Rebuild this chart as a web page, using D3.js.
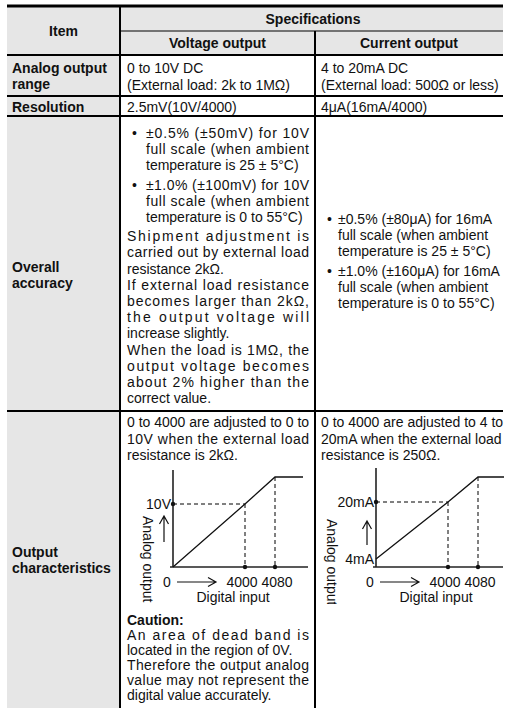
<!DOCTYPE html>
<html>
<head>
<meta charset="utf-8">
<script src="https://cdn.jsdelivr.net/npm/d3@7"></script>
<style>
body{margin:0;background:#fff;}
text{font-family:"Liberation Sans",Arial,sans-serif;font-size:14px;fill:#111;}
.b{font-weight:bold;}
</style>
</head>
<body>
<svg id="chart" width="506" height="708"></svg>
<script>
// table text
var itemHeader = "Item";
var specHeader = "Specifications";
var columnHeaders = ["Voltage output", "Current output"];
var rowLabels = [["Analog output", "range"], ["Resolution"], ["Overall", "accuracy"], ["Output", "characteristics"]];
var rangeText = [["0 to 10V DC", "(External load: 2k to 1M\u03A9)"], ["4 to 20mA DC", "(External load: 500\u03A9 or less)"]];
var resolutionText = ["2.5mV(10V/4000)", "4\u03BCA(16mA/4000)"];

var accuracyVoltage = [
  {bullet: true, justify: true, lines: ["\u00B10.5% (\u00B150mV) for 10V", "full scale (when ambient", "temperature is 25 \u00B1 5\u00B0C)"]},
  {bullet: true, justify: true, lines: ["\u00B11.0% (\u00B1100mV) for 10V", "full scale (when ambient", "temperature is 0 to 55\u00B0C)"]},
  {justify: true, lines: ["Shipment adjustment is", "carried out by external load", "resistance 2k\u03A9."]},
  {justify: true, lines: ["If external load resistance", "becomes larger than 2k\u03A9,", "the output voltage will", "increase slightly."]},
  {justify: true, lines: ["When the load is 1M\u03A9, the", "output voltage becomes", "about 2% higher than the", "correct value."]}
];
var accuracyCurrent = [
  {bullet: true, lines: ["\u00B10.5% (\u00B180\u03BCA) for 16mA", "full scale (when ambient", "temperature is 25 \u00B1 5\u00B0C)"]},
  {bullet: true, lines: ["\u00B11.0% (\u00B1160\u03BCA) for 16mA", "full scale (when ambient", "temperature is 0 to 55\u00B0C)"]}
];
var introVoltage = [{justify: true, lines: ["0 to 4000 are adjusted to 0 to", "10V when the external load", "resistance is 2k\u03A9."]}];
var introCurrent = [{justify: true, lines: ["0 to 4000 are adjusted to 4 to", "20mA when the external load", "resistance is 250\u03A9."]}];
var cautionTitle = "Caution:";
var cautionText = [
  {justify: true, lines: ["An area of dead band is", "located in the region of 0V."]},
  {justify: true, lines: ["Therefore the output analog", "value may not represent the", "digital value accurately."]}
];

// output characteristics
var digitalStops = [0, 4000, 4080, 4400];
var digitalTicks = [0, 4000, 4080];
var voltageCurve = [{d: 0, v: 0}, {d: 4000, v: 10}, {d: 4080, v: 10.2}, {d: 4400, v: 10.2}];
var currentCurve = [{d: 0, v: 4}, {d: 4000, v: 20}, {d: 4080, v: 20.32}, {d: 4400, v: 20.32}];
var voltageMarks = [{v: 10, label: "10V"}];
var currentMarks = [{v: 20, label: "20mA"}, {v: 4, label: "4mA"}];
var axisTitleY = "Analog output";
var axisTitleX = "Digital input";

var svg = d3.select("#chart");

// backgrounds
svg.append("rect").attr("x", 7).attr("y", 6).attr("width", 113).attr("height", 702).attr("fill", "#e6e6e6");
svg.append("rect").attr("x", 120).attr("y", 6).attr("width", 383).attr("height", 49).attr("fill", "#e6e6e6");

// rules
function hline(x1, x2, y, w) {
  svg.append("line").attr("x1", x1).attr("x2", x2).attr("y1", y).attr("y2", y)
    .attr("stroke", "#000").attr("stroke-width", w);
}
function vline(x, y1, y2, w) {
  svg.append("line").attr("x1", x).attr("x2", x).attr("y1", y1).attr("y2", y2)
    .attr("stroke", "#000").attr("stroke-width", w);
}
hline(7, 503, 6, 3);
hline(120, 503, 31, 1);
hline(7, 503, 55, 2);
hline(7, 503, 96, 2);
hline(7, 503, 116, 2);
hline(7, 503, 411, 2);
vline(120, 6, 708, 2);
vline(315, 31, 708, 2);

function txt(s, x, y, cls, anchor) {
  return svg.append("text").attr("x", x).attr("y", y).attr("class", cls || null)
    .attr("text-anchor", anchor || "start").text(s);
}
function fit(t, width) {
  var n = t.node().getComputedTextLength();
  if (n < width) t.attr("textLength", width).attr("lengthAdjust", "spacing");
}

// paragraphs, returns next baseline
function paragraphs(paras, x, y, right, step, bulletX, textX) {
  paras.forEach(function(p) {
    p.lines.forEach(function(s, i) {
      var lx = p.bullet ? textX : x;
      if (p.bullet && i == 0) txt("\u2022", bulletX, y);
      var t = txt(s, lx, y);
      if (p.justify && i < p.lines.length - 1) fit(t, right - lx);
      y += step;
    });
    if (p.bullet) y += 3;
  });
  return y;
}

// header
txt(itemHeader, 63.5, 36, "b", "middle");
txt(specHeader, 313, 24, "b", "middle");
txt(columnHeaders[0], 217.5, 48, "b", "middle");
txt(columnHeaders[1], 409, 48, "b", "middle");

// row labels
var labelBase = [73, 111.5, 272, 557];
rowLabels.forEach(function(r, i) {
  r.forEach(function(s, j) { txt(s, 12, labelBase[i] + j * 16.2, "b"); });
});

// analog range + resolution
rangeText[0].forEach(function(s, j) { txt(s, 127, 73 + j * 16.5); });
rangeText[1].forEach(function(s, j) { txt(s, 321, 73 + j * 16.5); });
txt(resolutionText[0], 127, 111.5);
txt(resolutionText[1], 321, 111.5);

// overall accuracy
paragraphs(accuracyVoltage, 127, 138, 309, 16.2, 132, 146);
paragraphs(accuracyCurrent, 321, 224, 500, 16.2, 327, 338);

// output characteristics text
paragraphs(introVoltage, 127, 427, 309, 16.5);
paragraphs(introCurrent, 321, 427, 500, 16.5);
txt(cautionTitle, 127, 625, "b");
paragraphs(cautionText, 127, 640, 309, 15);

// clip for the rotated axis titles
svg.append("clipPath").attr("id", "clipY").append("rect")
  .attr("x", 0).attr("y", 400).attr("width", 506).attr("height", 204);
svg.append("clipPath").attr("id", "clipR").append("rect")
  .attr("x", 0).attr("y", 400).attr("width", 504).attr("height", 308);

function drawCharacteristic(c) {
  var g = svg.append("g").attr("clip-path", "url(#clipR)");
  var x = d3.scaleLinear().domain(digitalStops).range([0, 72, 102, 130].map(function(d) { return c.ax + d; }));
  var y = d3.scaleLinear().domain(c.yDomain).range(c.yRange);
  var base = y(0);
  var valueAt = function(d) { return c.curve.filter(function(p) { return p.d == d; })[0].v; };
  var full = c.marks[0].v;

  // dashed guides
  g.append("line").attr("x1", c.ax).attr("x2", x(4000)).attr("y1", y(full)).attr("y2", y(full))
    .attr("stroke", "#000").attr("stroke-width", 1).attr("stroke-dasharray", "4,3");
  g.selectAll(".guide").data(digitalTicks.slice(1)).enter().append("line")
    .attr("x1", function(d) { return x(d); }).attr("x2", function(d) { return x(d); })
    .attr("y1", function(d) { return y(valueAt(d)); }).attr("y2", base)
    .attr("stroke", "#000").attr("stroke-width", 1).attr("stroke-dasharray", "4,3");

  // axes
  g.append("line").attr("x1", c.ax).attr("x2", c.ax).attr("y1", c.axisTop).attr("y2", base)
    .attr("stroke", "#222").attr("stroke-width", 1.6);
  g.append("line").attr("x1", c.ax - 3).attr("x2", c.xEnd).attr("y1", base).attr("y2", base)
    .attr("stroke", "#222").attr("stroke-width", 1.6);

  // characteristic
  var line = d3.line().x(function(p) { return x(p.d); }).y(function(p) { return y(p.v); });
  g.append("path").attr("d", line(c.curve)).attr("fill", "none").attr("stroke", "#111").attr("stroke-width", 1.3);

  // dots
  var dots = [[c.ax, y(full)], [x(4000), base], [x(4080), base]];
  g.selectAll(".dot").data(dots).enter().append("circle")
    .attr("cx", function(d) { return d[0]; }).attr("cy", function(d) { return d[1]; })
    .attr("r", 2.2).attr("fill", "#111");

  // y labels
  c.marks.forEach(function(m) {
    txt(m.label, c.ax - 2, y(m.v) + 5, null, "end");
  });
  // x labels
  txt("0", c.ax - 6, base + 20, null, "middle");
  txt(digitalTicks[1], x(4000) - 3, base + 20, null, "middle");
  txt(digitalTicks[2], x(4080) + 2, base + 20, null, "middle");
  txt(axisTitleX, c.ax + 60, base + 35, null, "middle");

  // arrows
  var ay = base + 15;
  svg.append("path")
    .attr("d", "M" + (c.ax + 4) + "," + ay + "H" + (c.ax + 43) +
      "M" + (c.ax + 35) + "," + (ay - 4.5) + "L" + (c.ax + 43) + "," + ay + "L" + (c.ax + 35) + "," + (ay + 4.5))
    .attr("fill", "none").attr("stroke", "#111").attr("stroke-width", 1.2);
  svg.append("path")
    .attr("d", "M" + c.upX + "," + c.upBottom + "V" + c.upTop +
      "M" + (c.upX - 4.5) + "," + (c.upTop + 8) + "L" + c.upX + "," + c.upTop + "L" + (c.upX + 4.5) + "," + (c.upTop + 8))
    .attr("fill", "none").attr("stroke", "#111").attr("stroke-width", 1.2);

  // rotated axis title
  svg.append("g").attr("clip-path", "url(#clipY)")
    .append("text").attr("transform", "translate(" + c.titleX + "," + c.titleY + ") rotate(90)")
    .attr("dy", "0.35em").text(axisTitleY);
}

drawCharacteristic({
  ax: 173, curve: voltageCurve, marks: voltageMarks,
  yDomain: [0, 10, 10.2], yRange: [567, 504, 477],
  axisTop: 470, xEnd: 308, upX: 164, upTop: 516, upBottom: 542,
  titleX: 148, titleY: 516
});
drawCharacteristic({
  ax: 376, curve: currentCurve, marks: currentMarks,
  yDomain: [0, 4, 20, 20.32], yRange: [567, 559, 502, 477],
  axisTop: 468, xEnd: 503, upX: 367, upTop: 521, upBottom: 545,
  titleX: 332, titleY: 519
});
</script>
</body>
</html>
